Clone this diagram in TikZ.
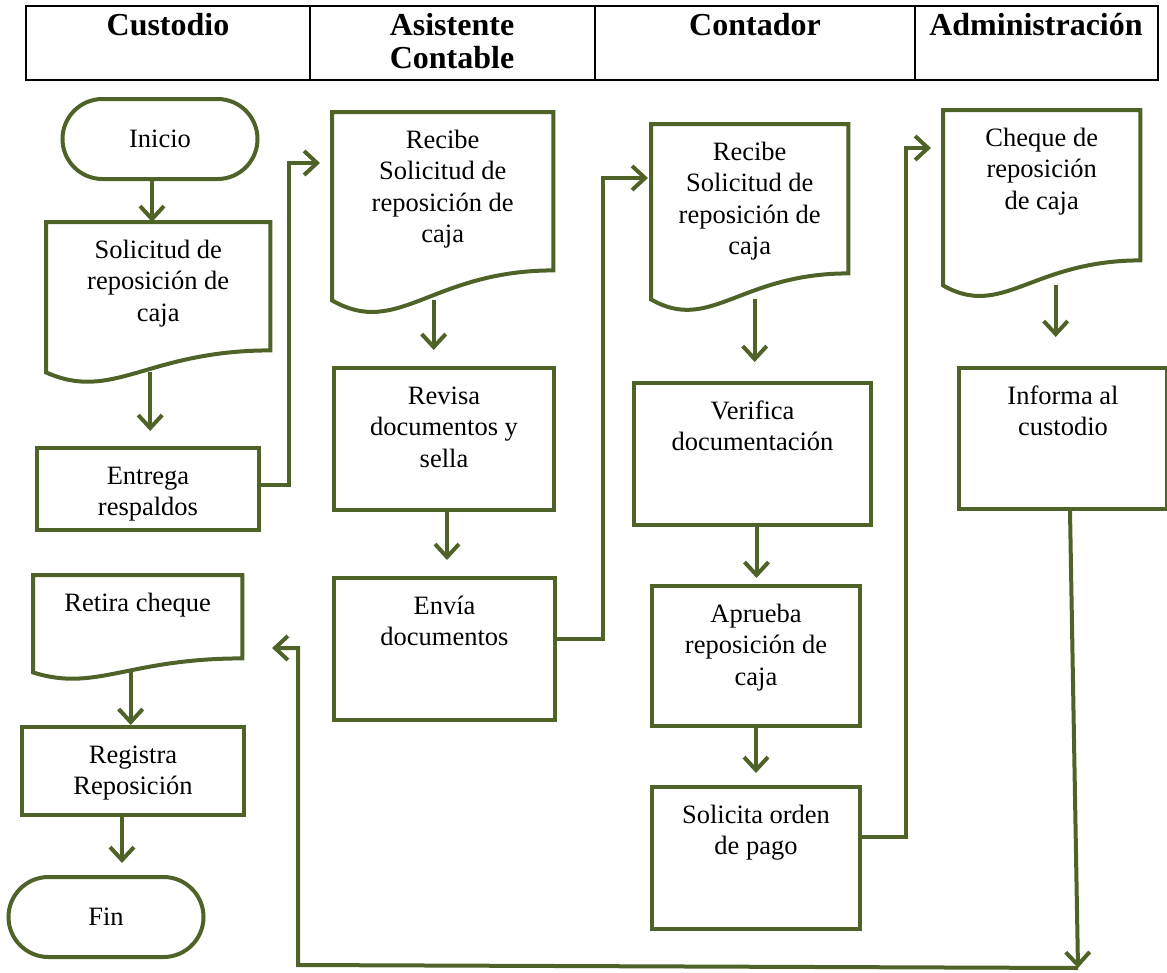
\documentclass[tikz,border=0pt]{standalone}
\usepackage{fontspec}
\setmainfont{Liberation Serif}
\usetikzlibrary{arrows.meta,calc,shapes.misc}
\definecolor{olivegreen}{RGB}{79,98,40}
\newcommand{\flowfont}{\fontsize{26.5}{31.5}\selectfont}
\newcommand{\hdrfont}{\fontsize{32}{33}\selectfont\bfseries}
% fixed-size box, text starting near the top
\newcommand{\boxtext}[3]{\parbox[c][#2pt][t]{#1pt}{\centering\rule{0pt}{36pt}#3}}
% document outline with a wavy bottom
\newcommand{\docshape}[3]{%
  \draw[flow] (#1.north west) -- (#1.north east) -- ($(#1.south east)+(0,-#2)$)
    .. controls ($(#1.south west)!0.45!(#1.south east)+(0,-#2)$)
    and ($(#1.south west)!0.3!(#1.south east)+(0,#3)$) .. (#1.south west) -- cycle;}
\tikzset{
  flow/.style={draw=olivegreen, line width=4pt},
  arr/.style={flow, -{Straight Barb[length=13pt,width=24pt]}},
  proc/.style={flow, rectangle, inner sep=0pt, anchor=north west, font=\flowfont},
  docu/.style={inner sep=0pt, anchor=north west, font=\flowfont},
  term/.style={flow, rounded rectangle, minimum width=195pt, minimum height=80pt, inner sep=0pt, font=\flowfont},
  lane/.style={line width=2.5pt},
  hdr/.style={font=\hdrfont, anchor=base, inner sep=0pt, align=center}
}
\begin{document}
\begin{tikzpicture}[x=1pt,y=-1pt]
	\useasboundingbox (0,0) rectangle (1167,972);

	% header
	\draw[lane] (26,6) rectangle (1158,80);
	\foreach \x in {310,595,915}
		\draw[lane] (\x,6) -- (\x,80);
	\node[hdr] (hcus) at (168,35) {Custodio};
	\node[hdr] (hasi) at (452,68) {Asistente\\Contable};
	\node[hdr] (hcon) at (755,35) {Contador};
	\node[hdr] (hadm) at (1036,35) {Administración};

	% Custodio
	\node[term] (inicio) at (160,139) {Inicio};
	\node[docu] (sol) at (46,222) {\boxtext{224}{150}{Solicitud de\\reposición de\\caja}};
	\docshape{sol}{22}{30}
	\node[proc] (entrega) at (35,446) {\boxtext{222}{82}{Entrega\\respaldos}};
	\node[docu] (retira) at (33,575) {\boxtext{209}{97}{Retira cheque}};
	\docshape{retira}{14}{20}
	\node[proc] (registra) at (20,725) {\boxtext{222}{88}{Registra\\Reposición}};
	\node[term] (fin) at (106,917) {Fin};

	% Asistente Contable
	\node[docu] (recibeA) at (332,112) {\boxtext{221}{188}{Recibe\\Solicitud de\\reposición de\\caja}};
	\docshape{recibeA}{30}{38}
	\node[proc] (revisa) at (332,366) {\boxtext{220}{142}{Revisa\\documentos y\\sella}};
	\node[proc] (envia) at (332,576) {\boxtext{221}{142}{Envía\\documentos}};

	% Contador
	\node[docu] (recibeB) at (651,124) {\boxtext{197}{175}{Recibe\\Solicitud de\\reposición de\\caja}};
	\docshape{recibeB}{26}{34}
	\node[proc] (verifica) at (632,381) {\boxtext{237}{142}{Verifica\\documentación}};
	\node[proc] (aprueba) at (650,584) {\boxtext{208}{140}{Aprueba\\reposición de\\caja}};
	\node[proc] (solicita) at (650,785) {\boxtext{208}{142}{Solicita orden\\de pago}};

	% Administracion
	\node[docu] (cheque) at (943,110) {\boxtext{197}{175}{Cheque de\\reposición\\de caja}};
	\docshape{cheque}{25}{34}
	\node[proc] (informa) at (957,366) {\boxtext{208}{141}{Informa al\\custodio}};

	% bends
	\coordinate (j1) at (289,163);
	\coordinate (j2) at (603,178);
	\coordinate (j3) at (906,148);
	\coordinate (j4) at (1078,968);
	\coordinate (j5) at (298,965);
	\coordinate (j6) at (272,648);

	% arrows
	\draw[arr] ([xshift=-8pt]inicio.south) -- ([xshift=-8pt]inicio.south |- sol.north);
	\draw[arr, shorten >=15pt] ([xshift=-8pt]sol.south) -- ([xshift=-8pt]sol.south |- entrega.north);
	\draw[arr, shorten >=12pt] ([yshift=4pt]entrega.east) -| (j1) -- (j1 -| recibeA.west);
	\draw[arr, shorten >=16pt] ([xshift=-9pt]recibeA.south) -- ([xshift=-9pt]recibeA.south |- revisa.north);
	\draw[arr, shorten >=16pt] ([xshift=3pt]revisa.south) -- ([xshift=3pt]revisa.south |- envia.north);
	\draw[arr, shorten >=3pt] ([yshift=10pt]envia.east) -| (j2) -- (j2 -| recibeB.west);
	\draw[arr, shorten >=19pt] ([xshift=5pt]recibeB.south) -- ([xshift=5pt]recibeB.south |- verifica.north);
	\draw[arr, shorten >=6pt] ([xshift=4pt]verifica.south) -- ([xshift=4pt]verifica.south |- aprueba.north);
	\draw[arr, shorten >=12pt] (aprueba.south) -- (aprueba.south |- solicita.north);
	\draw[arr, shorten >=12pt] ([yshift=21pt]solicita.east) -| (j3) -- (j3 -| cheque.west);
	\draw[arr, shorten >=29pt] ([xshift=14pt]cheque.south) -- ([xshift=14pt]cheque.south |- informa.north);
	\draw[arr] ([xshift=7pt]informa.south) -- (j4);
	\draw[arr] (j4) -- (j5) |- (j6);
	\draw[arr] ([xshift=-7pt]retira.south) -- ([xshift=-7pt]retira.south |- registra.north);
	\draw[arr, shorten >=12pt] ([xshift=-11pt]registra.south) -- ([xshift=-11pt]registra.south |- fin.north);
\end{tikzpicture}
\end{document}
